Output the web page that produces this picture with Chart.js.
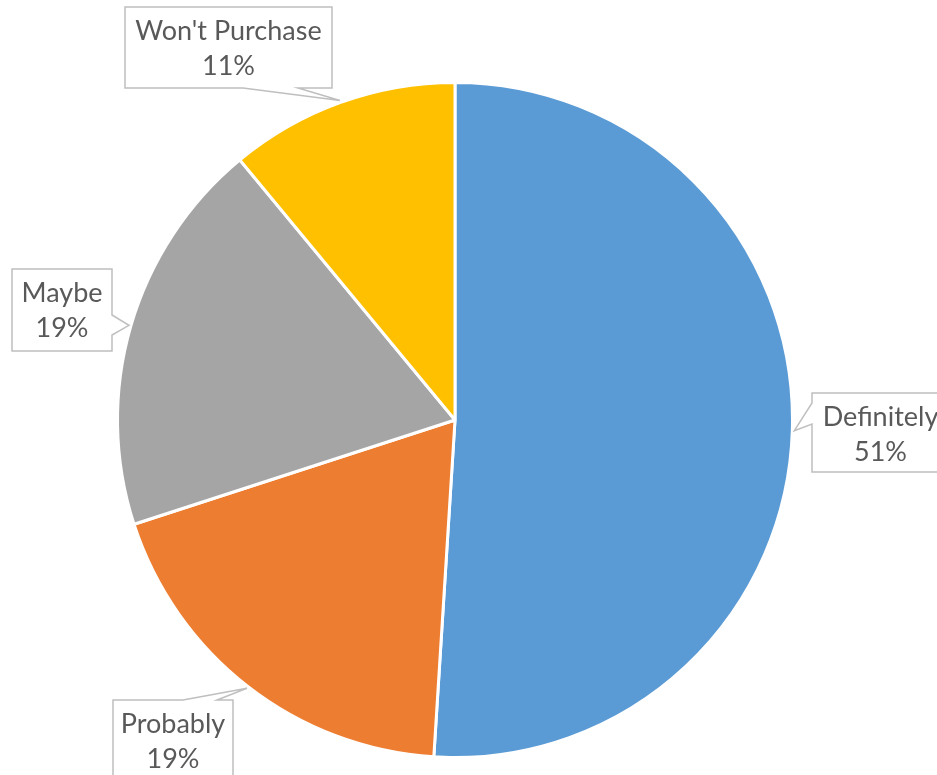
<!DOCTYPE html>
<html>
<head>
<meta charset="utf-8">
<script src="https://cdn.jsdelivr.net/npm/chart.js@4.4.1/dist/chart.umd.min.js"></script>
<style>
  html, body { margin: 0; padding: 0; background: #ffffff; }
  #c { display: block; }
</style>
</head>
<body>
<canvas id="c" width="937" height="775"></canvas>
<script>
// ---- data ----
const categories = ["Definitely", "Probably", "Maybe", "Won't Purchase"];
const values = [51, 19, 19, 11];
const sliceColors = ["#5B9BD5", "#ED7D31", "#A5A5A5", "#FFC000"];

// ---- callout layout (box positions, wedge side and wedge base along that side) ----
const calloutBoxes = [
  { x: 812, y: 393, w: 137, h: 79, side: "left",   base: [403, 424] },
  { x: 113, y: 700, w: 120, h: 80, side: "top",    base: [183, 217] },
  { x: 12,  y: 269, w: 100, h: 82, side: "right",  base: [315, 335] },
  { x: 125, y: 7,   w: 207, h: 81, side: "bottom", base: [243, 298] }
];

const calloutPlugin = {
  id: "callouts",
  afterDraw(chart) {
    const ctx = chart.ctx;
    const meta = chart.getDatasetMeta(0);
    const ds = chart.data.datasets[0];
    meta.data.forEach((arc, i) => {
      const p = arc.getProps(["x", "y", "startAngle", "endAngle", "outerRadius"], true);
      const mid = (p.startAngle + p.endAngle) / 2;
      const tx = p.x + Math.cos(mid) * (p.outerRadius + 2);
      const ty = p.y + Math.sin(mid) * (p.outerRadius + 2);
      const b = calloutBoxes[i];
      const x = b.x, y = b.y, w = b.w, h = b.h, a0 = b.base[0], a1 = b.base[1];
      ctx.save();
      ctx.beginPath();
      if (b.side === "bottom") {
        ctx.moveTo(x, y); ctx.lineTo(x + w, y); ctx.lineTo(x + w, y + h);
        ctx.lineTo(a1, y + h); ctx.lineTo(tx, ty); ctx.lineTo(a0, y + h);
        ctx.lineTo(x, y + h);
      } else if (b.side === "right") {
        ctx.moveTo(x, y); ctx.lineTo(x + w, y); ctx.lineTo(x + w, a0);
        ctx.lineTo(tx, ty); ctx.lineTo(x + w, a1); ctx.lineTo(x + w, y + h);
        ctx.lineTo(x, y + h);
      } else if (b.side === "left") {
        ctx.moveTo(x, y); ctx.lineTo(x + w, y); ctx.lineTo(x + w, y + h);
        ctx.lineTo(x, y + h); ctx.lineTo(x, a1); ctx.lineTo(tx, ty);
        ctx.lineTo(x, a0);
      } else {
        ctx.moveTo(x, y); ctx.lineTo(a0, y); ctx.lineTo(tx, ty);
        ctx.lineTo(a1, y); ctx.lineTo(x + w, y); ctx.lineTo(x + w, y + h);
        ctx.lineTo(x, y + h);
      }
      ctx.closePath();
      ctx.fillStyle = "#ffffff";
      ctx.fill();
      ctx.lineWidth = 1.5;
      ctx.strokeStyle = "#BFBFBF";
      ctx.lineJoin = "miter";
      ctx.stroke();

      const total = ds.data.reduce((s, v) => s + v, 0);
      const pct = Math.round(ds.data[i] / total * 100) + "%";
      ctx.fillStyle = "#595959";
      ctx.font = "27px Lato, 'Open Sans', sans-serif";
      ctx.textAlign = "center";
      ctx.textBaseline = "alphabetic";
      const cx = x + w / 2;
      ctx.fillText(chart.data.labels[i], cx, y + 33);
      ctx.fillText(pct, cx, y + 68);
      ctx.restore();
    });
  }
};

new Chart(document.getElementById("c"), {
  type: "pie",
  data: {
    labels: categories,
    datasets: [{
      data: values,
      backgroundColor: sliceColors,
      borderColor: "#ffffff",
      borderWidth: 3
    }]
  },
  options: {
    responsive: false,
    animation: false,
    layout: { padding: { top: 81, bottom: 16, left: 100, right: 127 } },
    plugins: {
      legend: { display: false },
      tooltip: { enabled: false }
    }
  },
  plugins: [calloutPlugin]
});
</script>
</body>
</html>
